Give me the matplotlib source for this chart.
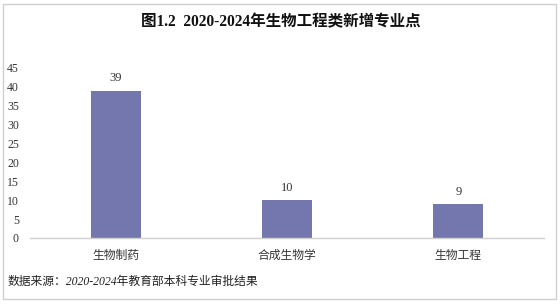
import matplotlib
matplotlib.use("Agg")
import matplotlib.pyplot as plt
from matplotlib.patches import Rectangle

categories = ["生物制药", "合成生物学", "生物工程"]
values = [39, 10, 9]
yticks = [0, 5, 10, 15, 20, 25, 30, 35, 40, 45]
title = "图1.2  2020-2024年生物工程类新增专业点"
source = "数据来源：2020-2024年教育部本科专业审批结果"

serif_cjk = ["Liberation Serif", "Noto Sans CJK SC"]
cjk = ["Noto Sans CJK SC", "DejaVu Sans"]

fig = plt.figure(figsize=(5.6, 3.05), dpi=100)
ax = fig.add_axes([30/560, 1-238/305, (544-30)/560, (238-68)/305])

x = range(len(categories))
bars = ax.bar(x, values, width=0.29, color="#7476ae")
ax.set_xlim(-0.5, len(categories)-0.5)
ax.set_ylim(0, 45)
ax.set_yticks(yticks)
ax.set_yticklabels([str(t) for t in yticks], fontfamily="Liberation Serif", fontsize=8.5, color="#333333")
ax.set_xticks(list(x))
ax.set_xticklabels(categories, fontfamily=cjk, fontsize=8.5, color="#333333")
ax.tick_params(axis="both", length=0)
ax.tick_params(axis="y", pad=8)
ax.tick_params(axis="x", pad=8)
for s in ["top", "right", "left"]:
    ax.spines[s].set_visible(False)
ax.spines["bottom"].set_color("#d0d0d0")
ax.spines["bottom"].set_linewidth(1)

for b, v in zip(bars, values):
    ax.annotate(str(v), (b.get_x()+b.get_width()/2, v), xytext=(0, 4.5), textcoords="offset points",
                ha="center", va="bottom", fontfamily="Liberation Serif", fontsize=9, color="#333333")

fig.text(281/560, 1-22/305, title, ha="center", va="center", fontfamily=serif_cjk,
         fontweight="bold", fontsize=11.2, color="#111111")
fig.text(8/560, 1-282/305, source, ha="left", va="center", fontfamily=serif_cjk,
         fontstyle="italic", fontsize=8.5, color="#222222")

fig.patches.append(Rectangle((3/560, 1-299/305), 553/560, 295/305, transform=fig.transFigure,
                             fill=False, edgecolor="#cfcfcf", linewidth=1))

fig.savefig("out.png", dpi=100)
